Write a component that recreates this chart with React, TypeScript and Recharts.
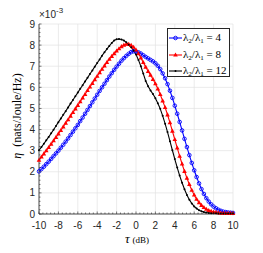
import { CartesianGrid, Legend, Line, LineChart, XAxis, YAxis } from "recharts";

// tau in dB, sampled every 0.25 dB
const TAU = [
  -10, -9.75, -9.5, -9.25, -9, -8.75, -8.5, -8.25, -8, -7.75, -7.5, -7.25, -7, -6.75, -6.5, -6.25,
  -6, -5.75, -5.5, -5.25, -5, -4.75, -4.5, -4.25, -4, -3.75, -3.5, -3.25, -3, -2.75, -2.5, -2.25,
  -2, -1.75, -1.5, -1.25, -1, -0.75, -0.5, -0.25, 0, 0.25, 0.5, 0.75, 1, 1.25, 1.5, 1.75,
  2, 2.25, 2.5, 2.75, 3, 3.25, 3.5, 3.75, 4, 4.25, 4.5, 4.75, 5, 5.25, 5.5, 5.75,
  6, 6.25, 6.5, 6.75, 7, 7.25, 7.5, 7.75, 8, 8.25, 8.5, 8.75, 9, 9.25, 9.5, 9.75, 10,
];

// eta (x 1e-3 nats/Joule/Hz) for lambda2/lambda1 = 4
const ETA_R4 = [
  2.02, 2.13, 2.24, 2.36, 2.48, 2.61, 2.74, 2.87, 3.0, 3.14, 3.28, 3.43, 3.58, 3.74, 3.9, 4.06,
  4.22, 4.4, 4.57, 4.75, 4.93, 5.11, 5.29, 5.47, 5.65, 5.83, 6.0, 6.17, 6.34, 6.51, 6.67, 6.83,
  6.98, 7.12, 7.26, 7.38, 7.49, 7.59, 7.67, 7.71, 7.7, 7.66, 7.6, 7.52, 7.44, 7.37, 7.3, 7.23,
  7.14, 7.02, 6.86, 6.66, 6.43, 6.15, 5.84, 5.5, 5.13, 4.75, 4.36, 3.96, 3.56, 3.17, 2.79, 2.42,
  2.07, 1.75, 1.45, 1.18, 0.95, 0.75, 0.59, 0.46, 0.35, 0.27, 0.2, 0.15, 0.11, 0.09, 0.07, 0.06, 0.05,
];

// lambda2/lambda1 = 8
const ETA_R8 = [
  2.55, 2.7, 2.85, 3.0, 3.15, 3.31, 3.47, 3.63, 3.8, 3.96, 4.13, 4.3, 4.47, 4.64, 4.81, 4.98,
  5.15, 5.32, 5.5, 5.67, 5.85, 6.02, 6.19, 6.36, 6.53, 6.7, 6.86, 7.02, 7.18, 7.33, 7.47, 7.6,
  7.72, 7.83, 7.93, 8.0, 8.04, 8.04, 7.99, 7.9, 7.77, 7.6, 7.4, 7.18, 6.96, 6.76, 6.58, 6.38,
  6.17, 5.93, 5.66, 5.36, 5.05, 4.7, 4.33, 3.93, 3.53, 3.13, 2.74, 2.37, 2.02, 1.7, 1.4, 1.13,
  0.9, 0.7, 0.54, 0.41, 0.31, 0.23, 0.17, 0.13, 0.1, 0.08, 0.06, 0.05, 0.04, 0.04, 0.03, 0.03, 0.03,
];

// lambda2/lambda1 = 12
const ETA_R12 = [
  3.02, 3.17, 3.33, 3.49, 3.65, 3.82, 3.99, 4.17, 4.35, 4.52, 4.7, 4.87, 5.05, 5.23, 5.4, 5.58,
  5.75, 5.93, 6.1, 6.28, 6.45, 6.63, 6.8, 6.98, 7.15, 7.32, 7.5, 7.66, 7.81, 7.96, 8.1, 8.22,
  8.28, 8.29, 8.27, 8.22, 8.13, 8.02, 7.9, 7.75, 7.55, 7.3, 7.0, 6.65, 6.3, 6.05, 5.85, 5.68,
  5.48, 5.25, 4.98, 4.65, 4.28, 3.88, 3.45, 3.02, 2.6, 2.2, 1.82, 1.48, 1.17, 0.9, 0.68, 0.5,
  0.36, 0.26, 0.18, 0.13, 0.09, 0.07, 0.05, 0.04, 0.03, 0.03, 0.02, 0.02, 0.02, 0.02, 0.02, 0.02, 0.02,
];

const RATIOS = [4, 8, 12];
const X_TICKS = [-10, -8, -6, -4, -2, 0, 2, 4, 6, 8, 10];
const Y_TICKS = [0, 1, 2, 3, 4, 5, 6, 7, 8, 9];

// MATLAB-style minor ticks (0.4 dB on x, 0.2 on y), majors included
const X_ALL = Array.from({ length: 51 }, (_, k) => Math.round((-10 + 0.4 * k) * 10) / 10);
const Y_ALL = Array.from({ length: 46 }, (_, k) => Math.round(0.2 * k * 10) / 10);

const AXIS = "#262626";
const SANS = "Liberation Sans, Arial, sans-serif";
const SERIF = "Liberation Serif, Times New Roman, serif";

const rows = TAU.map((t, i) => ({ tau: t, r4: ETA_R4[i], r8: ETA_R8[i], r12: ETA_R12[i] }));

const isMajor = (v: number, step: number) => Math.abs(v / step - Math.round(v / step)) < 1e-6;

function circleDot(p: any) {
  return <circle key={p.index} cx={p.cx} cy={p.cy} r={1.8} fill="none" stroke="#0000ff" strokeWidth={0.9} />;
}
function triDot(p: any) {
  const { cx, cy } = p;
  return <polygon key={p.index} points={`${cx},${cy - 2.5} ${cx - 2.3},${cy + 1.6} ${cx + 2.3},${cy + 1.6}`} fill="#ff0000" />;
}
function pointDot(p: any) {
  return <circle key={p.index} cx={p.cx} cy={p.cy} r={1} fill="#000" />;
}

const SERIES = [
  { key: "r4", color: "#0000ff", dot: circleDot },
  { key: "r8", color: "#ff0000", dot: triDot },
  { key: "r12", color: "#000000", dot: pointDot },
];

function BottomTick({ x, y, payload }: any) {
  const major = isMajor(payload.value, 2);
  return (
    <g>
      <line x1={x} x2={x} y1={y} y2={y - (major ? 2.5 : 1.5)} stroke={AXIS} strokeWidth={0.6} />
      {major && (
        <text x={x} y={y + 15} textAnchor="middle" fontSize={10} fontFamily={SANS} fill={AXIS}>
          {payload.value}
        </text>
      )}
    </g>
  );
}
function TopTick({ x, y, payload }: any) {
  const major = isMajor(payload.value, 2);
  return <line x1={x} x2={x} y1={y} y2={y + (major ? 2.5 : 1.5)} stroke={AXIS} strokeWidth={0.6} />;
}
function LeftTick({ x, y, payload }: any) {
  const major = isMajor(payload.value, 1);
  return (
    <g>
      <line x1={x} x2={x + (major ? 2.5 : 1.5)} y1={y} y2={y} stroke={AXIS} strokeWidth={0.6} />
      {major && (
        <text x={x - 4} y={y + 3.6} textAnchor="end" fontSize={10} fontFamily={SANS} fill={AXIS}>
          {payload.value}
        </text>
      )}
    </g>
  );
}
function RightTick({ x, y, payload }: any) {
  const major = isMajor(payload.value, 1);
  return <line x1={x} x2={x - (major ? 2.5 : 1.5)} y1={y} y2={y} stroke={AXIS} strokeWidth={0.6} />;
}

function LegendBox() {
  return (
    <div
      style={{
        width: 63,
        height: 49,
        boxSizing: "border-box",
        border: `1px solid ${AXIS}`,
        background: "#fff",
        paddingTop: 1,
        fontFamily: SERIF,
        fontSize: 11,
        color: "#000",
      }}
    >
      {SERIES.map((s, i) => (
        <div key={s.key} style={{ display: "flex", alignItems: "center", height: 16.5, whiteSpace: "nowrap" }}>
          <svg width={15} height={10} style={{ flex: "none" }}>
            <line x1={1} x2={14} y1={5} y2={5} stroke={s.color} strokeWidth={1.1} />
            {s.dot({ cx: 7.5, cy: 5, index: 0 })}
          </svg>
          <span>
            λ<sub style={{ fontSize: 7, verticalAlign: -2 }}>2</sub>/λ<sub style={{ fontSize: 7, verticalAlign: -2 }}>1</sub> = {RATIOS[i]}
          </span>
        </div>
      ))}
    </div>
  );
}

export default function App() {
  return (
    <div style={{ position: "fixed", left: 0, top: 0, width: 263, height: 253, background: "#fff" }}>
      <LineChart width={263} height={253} data={rows} margin={{ top: 24, right: 30, bottom: 15, left: 9 }}>
        <CartesianGrid verticalValues={X_TICKS} horizontalValues={Y_TICKS} stroke="#e2e2e2" strokeWidth={0.7} />
        <XAxis
          dataKey="tau"
          type="number"
          domain={[-10, 10]}
          ticks={X_ALL}
          interval={0}
          height={24}
          tickSize={0}
          tickMargin={0}
          tickLine={false}
          tick={<BottomTick />}
          axisLine={{ stroke: AXIS, strokeWidth: 0.8 }}
          label={{
            content: () => (
              <text x={137} y={243} textAnchor="middle" fontFamily={SERIF} fill="#000">
                <tspan fontSize={13} fontStyle="italic">τ</tspan>
                <tspan fontSize={9} dx={3}>(dB)</tspan>
              </text>
            ),
          }}
        />
        <XAxis
          xAxisId="top"
          orientation="top"
          dataKey="tau"
          type="number"
          domain={[-10, 10]}
          ticks={X_ALL}
          interval={0}
          height={0}
          tickSize={0}
          tickMargin={0}
          tickLine={false}
          tick={<TopTick />}
          axisLine={{ stroke: AXIS, strokeWidth: 0.8 }}
        />
        <YAxis
          type="number"
          domain={[0, 9]}
          ticks={Y_ALL}
          interval={0}
          width={30}
          tickSize={0}
          tickMargin={0}
          tickLine={false}
          tick={<LeftTick />}
          axisLine={{ stroke: AXIS, strokeWidth: 0.8 }}
          label={{
            content: () => (
              <g>
                <text
                  x={17}
                  y={116}
                  transform="rotate(-90, 17, 116)"
                  textAnchor="middle"
                  dominantBaseline="central"
                  fontFamily={SERIF}
                  fontSize={12}
                  fill="#000"
                >
                  <tspan fontStyle="italic">η</tspan>
                  <tspan dx={6}>(nats/Joule/Hz)</tspan>
                </text>
                <text x={39} y={18} fontFamily={SANS} fontSize={10} fill={AXIS}>
                  ×10
                  <tspan dy={-5} fontSize={8}>
                    -3
                  </tspan>
                </text>
              </g>
            ),
          }}
        />
        <YAxis
          yAxisId="right"
          orientation="right"
          type="number"
          domain={[0, 9]}
          ticks={Y_ALL}
          interval={0}
          width={0}
          tickSize={0}
          tickMargin={0}
          tickLine={false}
          tick={<RightTick />}
          axisLine={{ stroke: AXIS, strokeWidth: 0.8 }}
        />
        {SERIES.map((s) => (
          <Line
            key={s.key}
            dataKey={s.key}
            type="linear"
            stroke={s.color}
            strokeWidth={1.1}
            dot={s.dot}
            activeDot={false}
            isAnimationActive={false}
          />
        ))}
        <Legend
          layout="vertical"
          align="center"
          verticalAlign="middle"
          wrapperStyle={{ left: 167, top: 28, width: 63 }}
          content={() => <LegendBox />}
        />
      </LineChart>
    </div>
  );
}
